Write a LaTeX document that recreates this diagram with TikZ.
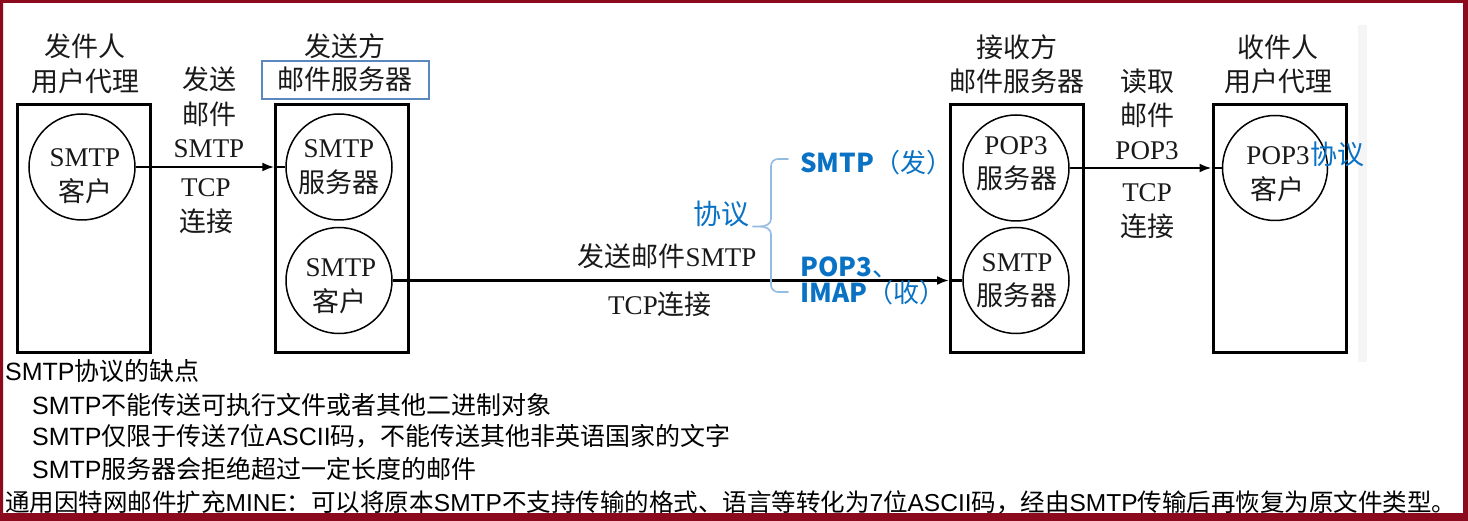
\documentclass[tikz,border=0pt]{standalone}
\usepackage{fontspec}
\setmainfont{Liberation Serif}
\newfontfamily\cjk{Noto Sans CJK SC}
\newfontfamily\lsans{Liberation Sans}
\usetikzlibrary{arrows.meta}
\definecolor{framered}{HTML}{8B0A1E}
\definecolor{pblue}{HTML}{0A72C4}
\definecolor{bracec}{HTML}{93BCE3}
\definecolor{boxblue}{HTML}{5A87BE}
\newcommand\zh[1]{{\cjk #1}}
\begin{document}
\begin{tikzpicture}[x=1pt,y=-1pt,
  dtxt/.style={anchor=base, inner sep=0pt, font=\fontsize{27}{32}\selectfont, text=black!90, yshift=-9.8pt},
  btxt/.style={anchor=base west, inner sep=0pt, font=\fontsize{26}{30}\selectfont\cjk, text=pblue, yshift=-9.5pt},
  ntxt/.style={anchor=base west, inner sep=0pt, font=\fontsize{25}{30}\selectfont\lsans, text=black, yshift=-9pt},
  agentbox/.style={draw, line width=3pt, minimum width=133pt, minimum height=248pt, inner sep=0pt},
  circ/.style={circle, draw, line width=1.5pt, minimum size=106pt, inner sep=0pt},
  conn/.style={line width=2.2pt, -{Latex[length=12pt,width=9pt]}},
  plain/.style={line width=2.2pt},
  brace/.style={draw=bracec, line width=1.6pt, line cap=round},
]
\fill[white] (0,0) rectangle (1468,521);
\useasboundingbox (0,0) rectangle (1468,521);
\fill[black!4] (1358,25) rectangle (1367,362);

% boxes
\node[agentbox] (b1) at (83.7,228.5) {};
\node[agentbox] (b2) at (342.3,228.5) {};
\node[agentbox] (b3) at (1017,228.5) {};
\node[agentbox] (b4) at (1279.5,228.5) {};

% circles
\node[circ] (c1) at (82,167) {};
\node[circ] (c2) at (339,167) {};
\node[circ] (c3) at (339,280.5) {};
\node[circ] (c4) at (1016,168) {};
\node[circ] (c5) at (1016,280.5) {};
\node[circ, minimum size=105pt] (c6) at (1275,168) {};

% titles
\node[dtxt] (t1a) at (85,47) {\zh{发件人}};
\node[dtxt] (t1b) at (85,82) {\zh{用户代理}};
\node[dtxt] (t2a) at (345,47) {\zh{发送方}};
\node[dtxt] (t2b) at (345,80) {\zh{邮件服务器}};
\draw[boxblue, line width=1.4pt] (262,61) rectangle (429,99);
\node[dtxt] (t3a) at (1017,48) {\zh{接收方}};
\node[dtxt] (t3b) at (1017,82) {\zh{邮件服务器}};
\node[dtxt] (t4a) at (1278,48) {\zh{收件人}};
\node[dtxt] (t4b) at (1278,82) {\zh{用户代理}};

% circle texts
\node[dtxt] (c1a) at (85,157) {SMTP};
\node[dtxt] (c1b) at (85,192) {\zh{客户}};
\node[dtxt] (c2a) at (339,148) {SMTP};
\node[dtxt] (c2b) at (339,183) {\zh{服务器}};
\node[dtxt] (c3a) at (341,267) {SMTP};
\node[dtxt] (c3b) at (339,302) {\zh{客户}};
\node[dtxt] (c4a) at (1016,145) {POP3};
\node[dtxt] (c4b) at (1017,179) {\zh{服务器}};
\node[dtxt] (c5a) at (1017,262) {SMTP};
\node[dtxt] (c5b) at (1017,296) {\zh{服务器}};
\node[dtxt] (c6a) at (1278,155) {POP3};
\node[dtxt] (c6b) at (1277,190) {\zh{客户}};
\node[btxt, font=\fontsize{27}{30}\selectfont\cjk] (c6p) at (1310,155) {协议};

% connectors
\draw[conn] (c1.east) -- (c1.east -| b2.west);
\draw[plain] (c1.east -| b2.west) -- (c2.west);
\draw[conn] (c3.east) -- (c3.east -| b3.west);
\draw[plain] (c3.east -| b3.west) -- (c5.west);
\draw[conn] (c4.east) -- (c4.east -| b4.west);
\draw[plain] (c4.east -| b4.west) -- (c6.west);

% connector labels
\node[dtxt] (l1a) at (209,80) {\zh{发送}};
\node[dtxt] (l1b) at (209,115) {\zh{邮件}};
\node[dtxt] (l1c) at (209,148) {SMTP};
\node[dtxt] (l1d) at (206,187) {TCP};
\node[dtxt] (l1e) at (206,222) {\zh{连接}};
\node[dtxt] (l2a) at (667,257) {\zh{发送邮件}SMTP};
\node[dtxt] (l2b) at (660,305) {TCP\zh{连接}};
\node[dtxt] (l3a) at (1147,82) {\zh{读取}};
\node[dtxt] (l3b) at (1147,116) {\zh{邮件}};
\node[dtxt] (l3c) at (1147,150) {POP3};
\node[dtxt] (l3d) at (1147,192) {TCP};
\node[dtxt] (l3e) at (1147,227) {\zh{连接}};

% blue annotation
\node[btxt, anchor=base, font=\fontsize{28}{30}\selectfont\cjk] (px) at (721,215) {协议};
\node[btxt] (ps) at (800,163) {\bfseries SMTP\mdseries（发）};
\node[btxt] (pp) at (800,267) {\bfseries POP3\mdseries、};
\node[btxt] (pi) at (800,293) {\bfseries IMAP\mdseries（收）};
\draw[brace] (788,159) -- (778,159) to[out=180,in=90] (771,166) -- (771,219) to[out=-90,in=0] (760,226.5) -- (753,226.5);
\draw[brace] (760,226.5) to[out=0,in=90] (771,234) -- (771,285) to[out=-90,in=180] (778,292) -- (788,292);

% notes
\node[ntxt] (n1) at (5,372) {SMTP\zh{协议的缺点}};
\node[ntxt] (n2) at (32,405) {SMTP\zh{不能传送可执行文件或者其他二进制对象}};
\node[ntxt] (n3) at (32,437) {SMTP\zh{仅限于传送}7\zh{位}ASCII\zh{码，不能传送其他非英语国家的文字}};
\node[ntxt] (n4) at (32,469) {SMTP\zh{服务器会拒绝超过一定长度的邮件}};
\node[ntxt, font=\fontsize{24.5}{30}\selectfont\lsans] (n5) at (5,502) {\zh{通用因特网邮件扩充}MINE\zh{：可以将原本}SMTP\zh{不支持传输的格式、语言等转化为}7\zh{位}ASCII\zh{码，经由}SMTP\zh{传输后再恢复为原文件类型。}};

% frame
\fill[framered, even odd rule] (0,0) rectangle (1468,521) (3,3) rectangle (1463,513);
\end{tikzpicture}
\end{document}
